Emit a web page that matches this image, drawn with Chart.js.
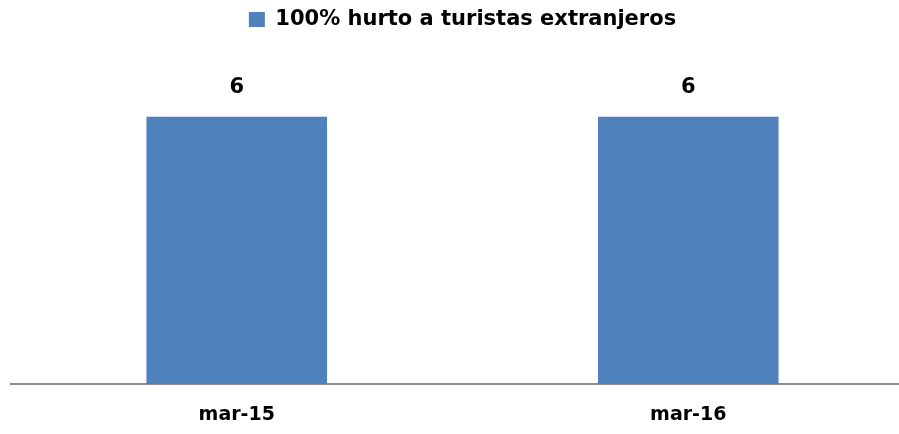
<!DOCTYPE html>
<html>
<head>
<meta charset="utf-8">
<script src="https://cdn.jsdelivr.net/npm/chart.js@4"></script>
<style>
  html, body { margin: 0; padding: 0; background: #fff; overflow: hidden; }
  #wrap { width: 914px; height: 434px; }
</style>
</head>
<body>
<div id="wrap"><canvas id="chartCanvas"></canvas></div>
<script>
const categories = ['mar-15', 'mar-16'];
const seriesName = '100% hurto a turistas extranjeros';
const hurtos = [6, 6];

// etiquetas de valor encima de cada barra
const valueLabels = {
  id: 'valueLabels',
  afterDatasetsDraw(chart) {
    const ctx = chart.ctx;
    ctx.save();
    ctx.font = 'bold 21px "DejaVu Sans"';
    ctx.fillStyle = '#000';
    ctx.textAlign = 'center';
    ctx.textBaseline = 'middle';
    chart.getDatasetMeta(0).data.forEach((bar, i) => {
      ctx.fillText(hurtos[i], bar.x, bar.y - 29);
    });
    ctx.restore();
  }
};

const ctx = document.getElementById('chartCanvas').getContext('2d');
new Chart(ctx, {
  type: 'bar',
  data: {
    labels: categories,
    datasets: [{
      label: seriesName,
      data: hurtos,
      backgroundColor: '#4F81BD',
      borderWidth: 0,
      barPercentage: 0.4,
      categoryPercentage: 1
    }]
  },
  options: {
    responsive: true,
    maintainAspectRatio: false,
    animation: false,
    layout: { padding: { left: 11, top: 3, right: 0, bottom: 2 } },
    plugins: {
      legend: {
        position: 'top',
        labels: {
          color: '#000',
          font: { family: '"DejaVu Sans"', size: 21, weight: 'bold' },
          boxWidth: 16,
          boxHeight: 15,
          padding: 6
        }
      },
      tooltip: { enabled: false }
    },
    scales: {
      x: {
        grid: { display: false },
        border: { display: true, color: '#8c8c8c', width: 2 },
        afterFit(scale) { scale.height = 48; },
        ticks: {
          color: '#000',
          padding: 12,
          font: { family: '"DejaVu Sans"', size: 19, weight: 'bold' }
        }
      },
      y: {
        display: false,
        min: 0,
        max: 7.72
      }
    }
  },
  plugins: [valueLabels]
});
</script>
</body>
</html>
